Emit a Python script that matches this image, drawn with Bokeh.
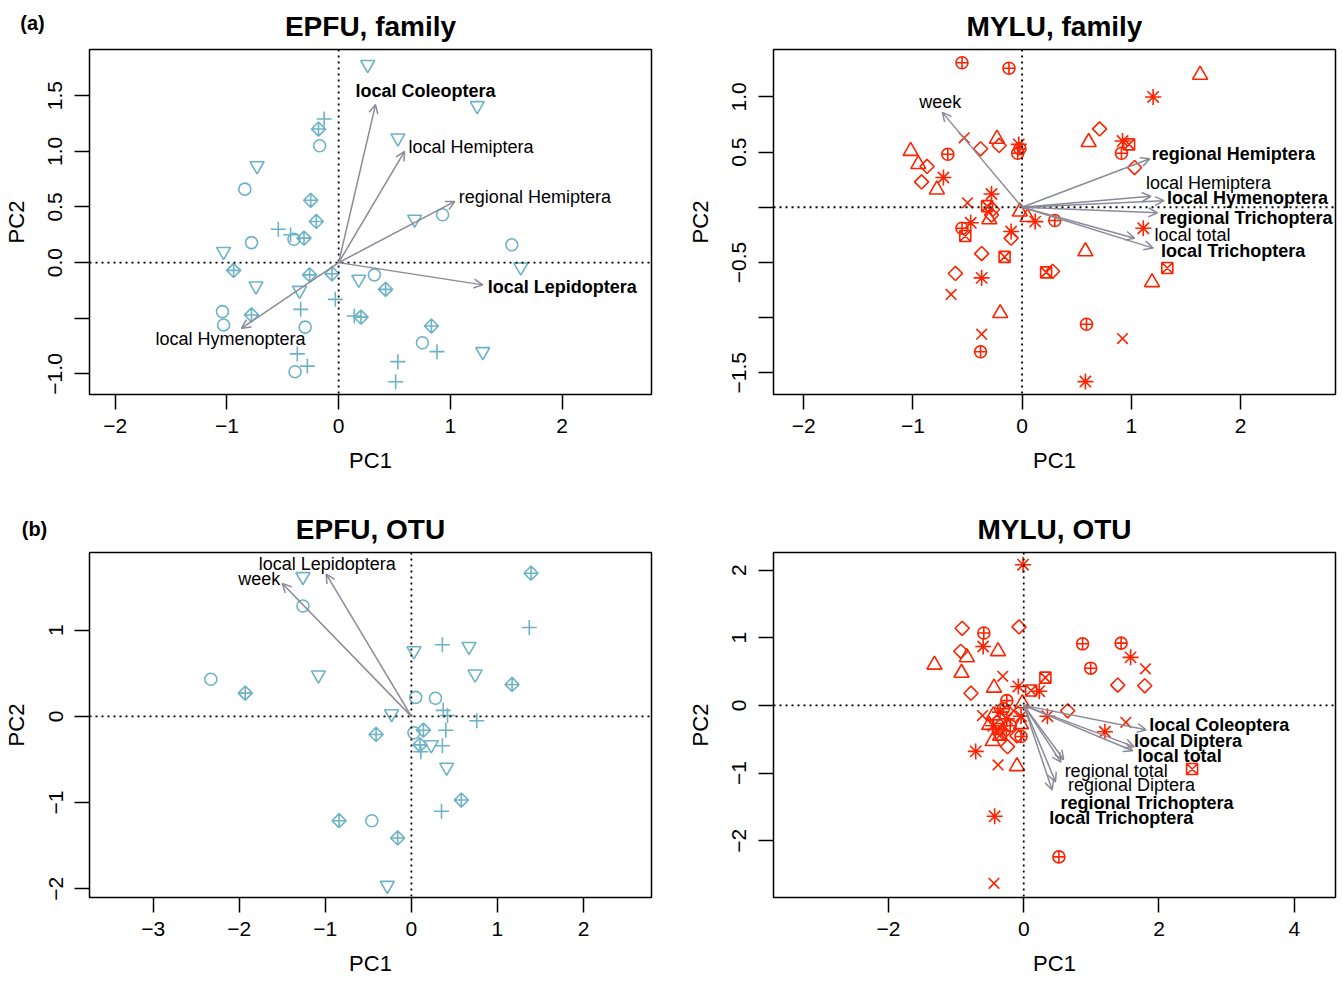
import math
from bokeh.plotting import figure
from bokeh.models import (ColumnDataSource, Arrow, OpenHead, Span, Label,
                          FixedTicker, Range1d)
from bokeh.layouts import column, row
from bokeh.embed import file_html
from bokeh.resources import INLINE
from bokeh.core.properties import value

FONT = "Liberation Sans"
TEAL = "#6db3c5"
RED = "#ff2200"
GRAY = "#8a8a98"

# ---------------- (a) EPFU, family ----------------
epfu_fam_pc1 = [-0.17, -0.84, -0.40, -0.78, -1.04, -1.03, -0.30, -0.39, 0.32, 0.93, 1.55, 0.75,
                0.26, 1.24, 0.53, -0.73, 0.68, -1.03, 1.63, -0.74, -0.35, 0.18, 1.29,
                -0.13, -0.54, -0.43, -0.03, -0.34, -0.37, -0.28, 0.14, 0.88, 0.53, 0.51,
                -0.18, -0.25, -0.20, -0.31, -0.94, -0.26, -0.06, -0.78, 0.42, 0.20, 0.83]
epfu_fam_pc2 = [1.05, 0.66, 0.21, 0.18, -0.44, -0.56, -0.58, -0.98, -0.11, 0.43, 0.16, -0.72,
                1.78, 1.41, 1.12, 0.87, 0.39, 0.10, -0.04, -0.21, -0.25, -0.15, -0.80,
                1.29, 0.30, 0.25, -0.33, -0.42, -0.82, -0.93, -0.48, -0.80, -0.89, -1.07,
                1.20, 0.56, 0.37, 0.22, -0.07, -0.11, -0.10, -0.47, -0.24, -0.49, -0.57]
epfu_fam_group = (["circle"] * 12 + ["tri_down"] * 11 + ["plus"] * 11 + ["diamond_plus"] * 11)
epfu_fam_vars = ["local Coleoptera", "local Hemiptera", "regional Hemiptera",
                 "local Lepidoptera", "local Hymenoptera"]
epfu_fam_load1 = [0.33, 0.59, 1.04, 1.29, -0.87]
epfu_fam_load2 = [1.42, 1.00, 0.55, -0.20, -0.59]
epfu_fam_signif = [True, False, False, True, False]

# ---------------- (a) MYLU, family ----------------
mylu_fam_pc1 = [-0.55, -0.12, -0.04, -0.02, -0.68, 0.30, -0.55, -0.38, 0.91, 0.59,
                -0.23, -1.02, -0.95, -0.78, -0.30, -0.02, 0.05, -0.20, 1.63, 0.61, 0.58, 1.19,
                -0.38, -0.21, -0.87, -0.92, -0.27, -0.28, -0.10, -0.37, -0.61, 0.28, 0.71, 1.03,
                -0.03, -0.72, -0.28, 0.12, -0.47, -0.10, -0.37, 1.20, 0.92, 1.11, 0.58,
                -0.53, -0.50, -0.65, -0.37, 0.92,
                -0.32, -0.52, -0.16, 0.22, 0.98, 1.33]
mylu_fam_pc2 = [1.31, 1.26, 0.49, 0.53, 0.48, -0.12, -0.19, -1.31, 0.49, -1.06,
                0.62, 0.51, 0.39, 0.16, -0.11, -0.04, -0.09, -0.96, 1.20, 0.59, -0.40, -0.68,
                0.53, 0.56, 0.37, 0.23, -0.02, -0.07, -0.28, -0.42, -0.60, -0.58, 0.71, 0.36,
                0.57, 0.27, 0.12, -0.13, -0.14, -0.22, -0.64, 1.00, 0.60, -0.19, -1.58,
                0.63, 0.04, -0.79, -1.15, -1.19,
                0.01, -0.26, -0.45, -0.59, 0.57, -0.55]
mylu_fam_group = (["circle_plus"] * 10 + ["tri_up"] * 12 + ["diamond"] * 12 +
                  ["asterisk"] * 11 + ["cross"] * 5 + ["square_x"] * 6)
mylu_fam_vars = ["week", "regional Hemiptera", "local Hemiptera", "local Hymenoptera",
                 "regional Trichoptera", "local total", "local Trichoptera"]
mylu_fam_load1 = [-0.73, 1.17, 1.18, 1.30, 1.24, 1.03, 1.20]
mylu_fam_load2 = [0.86, 0.44, 0.10, 0.06, -0.05, -0.28, -0.37]
mylu_fam_signif = [False, True, False, True, True, False, True]

# ---------------- (b) EPFU, OTU ----------------
epfu_otu_pc1 = [-1.26, -2.33, -0.46, 0.05, 0.28, 0.03,
                -1.26, -1.08, -0.23, -0.28, 0.67, 0.03, 0.74, 0.23, 0.41,
                1.37, 0.36, 0.37, 0.42, 0.76, 0.40, 0.36, 0.11, 0.35,
                1.39, 1.17, -1.93, -0.41, 0.14, 0.10, 0.58, -0.84, -0.16]
epfu_otu_pc2 = [1.28, 0.43, -1.21, 0.22, 0.21, -0.19,
                1.62, 0.48, 0.03, -1.96, 0.81, 0.76, 0.49, -0.33, -0.59,
                1.03, 0.83, 0.07, 0.01, -0.05, -0.16, -0.34, -0.41, -1.10,
                1.66, 0.37, 0.27, -0.21, -0.16, -0.33, -0.97, -1.21, -1.41]
epfu_otu_group = (["circle"] * 6 + ["tri_down"] * 9 + ["plus"] * 9 + ["diamond_plus"] * 9)
epfu_otu_vars = ["week", "local Lepidoptera"]
epfu_otu_load1 = [-1.50, -0.99]
epfu_otu_load2 = [1.54, 1.65]
epfu_otu_signif = [False, False]

# ---------------- (b) MYLU, OTU ----------------
mylu_otu_pc1 = [-0.59, -0.25, -0.04, 0.52, 0.87, 1.44, 0.99, -0.30, -0.20,
                -0.84, -0.38, -1.32, -0.92, -0.44, -0.02, -0.04, -0.51, -0.46, -0.10, -0.45, -0.35,
                -0.91, -0.07, -0.93, -0.78, 0.65, -0.24, 1.39, 1.79, -0.40, -0.30, -0.10,
                -0.01, -0.60, -0.08, 0.23, 0.35, -0.04, -0.71, -0.43, 1.58, 1.20, -0.35, -0.25, -0.45,
                -0.31, -0.61, -0.38, -0.44, 1.80, 1.51, -0.15,
                0.32, 0.11, -0.34, 2.49, -0.38]
mylu_otu_pc2 = [1.07, 0.07, -0.46, -2.24, 0.91, 0.92, 0.55, -0.05, -0.30,
                0.71, 0.80, 0.60, 0.48, 0.26, 0.03, -0.28, -0.29, -0.53, -0.90, -0.15, -0.45,
                1.14, 1.16, 0.80, 0.18, -0.08, -0.61, 0.30, 0.29, -0.25, -0.40, -0.45,
                2.08, 0.87, 0.28, 0.21, -0.16, -0.16, -0.68, -1.64, 0.71, -0.39, -0.10, -0.20, -0.30,
                0.43, -0.15, -0.88, -2.63, 0.54, -0.25, -0.08,
                0.41, 0.22, -0.43, -0.94, -0.35]
mylu_otu_group = (["circle_plus"] * 9 + ["tri_up"] * 12 + ["diamond"] * 11 +
                  ["asterisk"] * 13 + ["cross"] * 7 + ["square_x"] * 5)
mylu_otu_vars = ["local Coleoptera", "local Diptera", "local total", "regional total",
                 "regional Diptera", "regional Trichoptera", "local Trichoptera"]
mylu_otu_load1 = [1.81, 1.63, 1.61, 0.59, 0.55, 0.47, 0.42]
mylu_otu_load2 = [-0.36, -0.61, -0.67, -0.80, -0.84, -1.13, -1.25]
mylu_otu_signif = [True, True, True, False, False, True, True]

# ---------------- styling (marker look, label offsets in px) ----------------
MARKERS = {
    "circle": ("circle", 12, 0.0),
    "tri_down": ("inverted_triangle", 14, 0.0),
    "plus": ("cross", 15, 0.0),
    "diamond_plus": ("square_x", 10, math.pi / 4),
    "circle_plus": ("circle_cross", 12, 0.0),
    "tri_up": ("triangle", 15, 0.0),
    "diamond": ("square", 10, math.pi / 4),
    "asterisk": ("asterisk", 16, 0.0),
    "cross": ("x", 15, 0.0),
    "square_x": ("square_x", 11, 0.0),
}


def fmt(v, dec):
    s = f"{abs(v):.{dec}f}"
    return ("\u2212" + s) if v < 0 else s


def panel(title, pc1, pc2, grp, color, xr, yr, xt, yt, ydec, yskip,
          names, l1, l2, sig, dx, dy, align, width, height, rb, bb, tag=None):
    p = figure(width=width, height=height, x_range=Range1d(*xr), y_range=Range1d(*yr),
               output_backend="svg", toolbar_location=None,
               min_border_left=89, min_border_right=rb, min_border_top=49, min_border_bottom=bb,
               x_axis_label="PC1", y_axis_label="PC2", title=title)
    p.title.text_font = FONT
    p.title.text_font_size = "28px"
    p.title.text_font_style = "bold"
    p.title.align = "center"
    p.title.text_color = "black"
    p.title.standoff = 16
    p.xgrid.visible = False
    p.ygrid.visible = False
    p.outline_line_color = "black"
    p.outline_line_width = 1.5
    p.background_fill_color = "white"
    p.border_fill_color = "white"

    xa = p.xaxis[0]
    ya = p.yaxis[0]
    xa.ticker = FixedTicker(ticks=xt, minor_ticks=[])
    ya.ticker = FixedTicker(ticks=yt, minor_ticks=[])
    xa.major_label_overrides = {t: fmt(t, 0) for t in xt}
    ya.major_label_overrides = {t: ("" if t in yskip else fmt(t, ydec)) for t in yt}
    for ax in (xa, ya):
        ax.axis_line_color = None
        ax.major_tick_line_color = "black"
        ax.major_tick_line_width = 1.5
        ax.major_tick_out = 15
        ax.major_tick_in = 0
        ax.minor_tick_line_color = None
        ax.major_label_text_font = FONT
        ax.major_label_text_font_size = "21px"
        ax.major_label_text_color = "black"
        ax.axis_label_text_font = FONT
        ax.axis_label_text_font_size = "22px"
        ax.axis_label_text_font_style = "normal"
        ax.axis_label_text_color = "black"
    ya.major_label_orientation = "vertical"
    xa.major_label_standoff = 9
    ya.major_label_standoff = 12
    xa.axis_label_standoff = 12
    ya.axis_label_standoff = 17

    for dim in ("width", "height"):
        p.add_layout(Span(location=0, dimension=dim, line_color="black",
                          line_dash="2 4", line_width=1.8))

    for key in MARKERS:
        idx = [i for i, g in enumerate(grp) if g == key]
        if not idx:
            continue
        m, s, a = MARKERS[key]
        src = ColumnDataSource(dict(x=[pc1[i] for i in idx], y=[pc2[i] for i in idx]))
        p.scatter("x", "y", source=src, marker=m, size=s, angle=a,
                  line_color=color, line_width=1.6, fill_color=None)

    n = len(names)
    asrc = ColumnDataSource(dict(x0=[0.0] * n, y0=[0.0] * n, x1=l1, y1=l2, name=names,
                                 style=["bold" if b else "normal" for b in sig],
                                 dx=dx, dy=dy, align=align))
    p.add_layout(Arrow(end=OpenHead(size=9, line_color=GRAY, line_width=1.5),
                       x_start="x0", y_start="y0", x_end="x1", y_end="y1",
                       source=asrc, line_color=GRAY, line_width=1.5))
    p.text(x="x1", y="y1", text="name", source=asrc, x_offset="dx", y_offset="dy",
           text_align="align", text_baseline="middle", text_font_style="style",
           text_font=value(FONT), text_font_size="18px", text_color="black")
    if tag:
        # panel tag placed in the (unused) right margin slot, drawn at canvas position
        p.add_layout(Label(x=tag[1], y=tag[2], x_units="canvas", y_units="canvas", text=tag[0],
                           text_font=FONT, text_font_size="20px", text_font_style="bold",
                           text_align="center", text_baseline="middle", text_color="black"),
                     "right")
    return p


p1 = panel("EPFU, family", epfu_fam_pc1, epfu_fam_pc2, epfu_fam_group, TEAL,
           (-2.23, 2.80), (-1.185, 1.915), [-2, -1, 0, 1, 2],
           [-1.0, -0.5, 0.0, 0.5, 1.0, 1.5], 1, [-0.5],
           epfu_fam_vars, epfu_fam_load1, epfu_fam_load2, epfu_fam_signif,
           [-20, 4, 4, 5, -11], [-14, -4, -4, 2, 11],
           ["left", "left", "left", "left", "center"],
           684, 503, 33, 109, tag=("(a)", 32, 22))
p2 = panel("MYLU, family", mylu_fam_pc1, mylu_fam_pc2, mylu_fam_group, RED,
           (-2.276, 2.87), (-1.697, 1.43), [-2, -1, 0, 1, 2],
           [-1.5, -1.0, -0.5, 0.0, 0.5, 1.0], 1, [-1.0, 0.0],
           mylu_fam_vars, mylu_fam_load1, mylu_fam_load2, mylu_fam_signif,
           [-2, 2, -5, 3, 2, 20, 8], [-10, -5, -13, -3, 5, -3, 3],
           ["center", "left", "left", "left", "left", "left", "left"],
           658, 503, 7, 109)
p3 = panel("EPFU, OTU", epfu_otu_pc1, epfu_otu_pc2, epfu_otu_group, TEAL,
           (-3.74, 2.79), (-2.10, 1.90), [-3, -2, -1, 0, 1, 2],
           [-2, -1, 0, 1], 0, [],
           epfu_otu_vars, epfu_otu_load1, epfu_otu_load2, epfu_otu_signif,
           [-2, 1], [-5, -10], ["right", "center"],
           684, 478, 33, 84, tag=("(b)", 34, 25))
p4 = panel("MYLU, OTU", mylu_otu_pc1, mylu_otu_pc2, mylu_otu_group, RED,
           (-3.70, 4.61), (-2.84, 2.26), [-2, 0, 2, 4],
           [-2, -1, 0, 1, 2], 0, [],
           mylu_otu_vars, mylu_otu_load1, mylu_otu_load2, mylu_otu_signif,
           [3, 0, 5, 1, 7, 5, -3], [-5, -6, 5, 11, 23, 21, 28],
           ["left"] * 7,
           658, 478, 7, 84)

layout = column(row(p1, p2), row(p3, p4))
open("out.html", "w").write(file_html(layout, INLINE))
